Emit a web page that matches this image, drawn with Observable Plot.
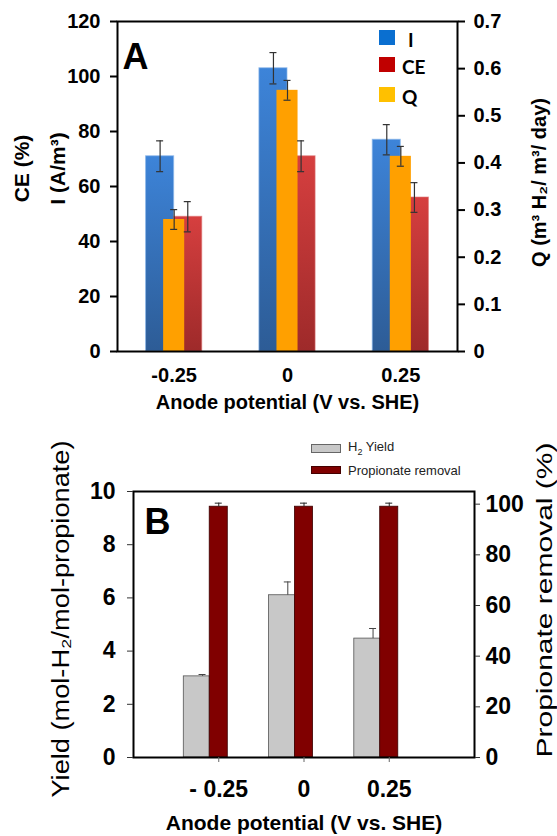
<!DOCTYPE html>
<html><head><meta charset="utf-8">
<script src="https://cdn.jsdelivr.net/npm/d3@7"></script>
<script src="https://cdn.jsdelivr.net/npm/@observablehq/plot@0.6"></script>
<style>
body{margin:0;background:#fff;font-family:"Liberation Sans",Arial,sans-serif;}
#wrap{position:relative;width:557px;height:836px;overflow:hidden;}
#wrap svg{display:block}
.sw{position:absolute;box-sizing:border-box;}
.lt{position:absolute;line-height:1;white-space:nowrap;}
</style></head><body><div id="wrap"></div>
<script>
// ---- data ----
const potentials = ["-0.25", "0", "0.25"];
const potentialLabelsB = ["- 0.25", "0", "0.25"];
const currentI = [71, 103, 77];
const currentErr = [5.6, 5.7, 5.5];
const ceValues = [49, 71, 56];
const ceErr = [5.5, 5.6, 5.4];
const qValues = [0.28, 0.554, 0.414];
const qErr = [0.021, 0.021, 0.021];
const h2Yield = [3.05, 6.1, 4.47];
const h2YieldErr = [0.07, 0.5, 0.38];
const propRemoval = [99, 99, 99];
const propRemovalErr = [1.4, 1.4, 1.4];
const leftTicksA = [0, 20, 40, 60, 80, 100, 120];
const rightTicksA = [0, 0.1, 0.2, 0.3, 0.4, 0.5, 0.6, 0.7];
const leftTicksB = [0, 2, 4, 6, 8, 10];
const rightTicksB = [0, 20, 40, 60, 80, 100];

const FONT = "Liberation Sans, Arial, Helvetica, sans-serif";
const wrap = document.getElementById("wrap");
const idx = potentials.map((_, i) => i);

// ---- Panel A ----
const qk = 120 / 0.7;
const rowsA = idx.map(i => ({i, I: currentI[i], Ie: currentErr[i], CE: ceValues[i], CEe: ceErr[i], Q: qValues[i] * qk, Qe: qErr[i] * qk}));
const W = 0.248, HQ = 0.093, CAP = 0.031;
const errA = [
  ...rowsA.map(d => ({x: d.i - W / 2, v: d.I, e: d.Ie})),
  ...rowsA.map(d => ({x: d.i, v: d.Q, e: d.Qe})),
  ...rowsA.map(d => ({x: d.i + 0.12, v: d.CE, e: d.CEe}))
];

const plotA = Plot.plot({
  width: 557, height: 415,
  marginTop: 21, marginBottom: 64, marginLeft: 117, marginRight: 100,
  x: {domain: [-0.5, 2.5]},
  y: {domain: [0, 120]},
  style: {fontFamily: FONT, fontSize: "20px", fontWeight: "bold", color: "#000", background: "#fff", overflow: "visible"},
  marks: [
    Plot.rect(rowsA, {x1: d => d.i - W, x2: d => d.i, y1: 0, y2: "I", fill: "url(#gradI)", stroke: "#8ab6ea", strokeOpacity: 0.7, strokeWidth: 1}),
    Plot.rect(rowsA, {x1: d => d.i, x2: d => d.i + W, y1: 0, y2: "CE", fill: "url(#gradCE)", stroke: "#e07a7a", strokeOpacity: 0.6, strokeWidth: 1}),
    Plot.rect(rowsA, {x1: d => d.i - HQ, x2: d => d.i + HQ, y1: 0, y2: "Q", fill: "#ffa000"}),
    Plot.ruleX(errA, {x: "x", y1: d => d.v - d.e, y2: d => d.v + d.e, stroke: "#333", strokeWidth: 1.2}),
    Plot.ruleY(errA, {y: d => d.v + d.e, x1: d => d.x - CAP, x2: d => d.x + CAP, stroke: "#333", strokeWidth: 1.2}),
    Plot.ruleY(errA, {y: d => d.v - d.e, x1: d => d.x - CAP, x2: d => d.x + CAP, stroke: "#333", strokeWidth: 1.2}),
    Plot.frame({stroke: "#000", strokeWidth: 2}),
    Plot.axisY({anchor: "left", ticks: leftTicksA, tickSize: 7, tickPadding: 10, strokeWidth: 2, label: null, fontSize: 20, fontWeight: "bold"}),
    Plot.axisY({anchor: "right", ticks: rightTicksA.map(v => v * qk), tickFormat: d => String(+(d / qk).toFixed(1)), tickSize: 7, tickPadding: 9, strokeWidth: 2, label: null, fontSize: 20, fontWeight: "bold"}),
    Plot.axisX({ticks: idx, tickFormat: i => potentials[i], tickSize: 0, tickPadding: 16, label: null, fontSize: 20, fontWeight: "bold"}),
    Plot.text(["Anode potential (V vs. SHE)"], {text: d => d, frameAnchor: "bottom", textAnchor: "middle", lineAnchor: "middle", dy: 51, fontSize: 20, fontWeight: "bold"}),
    Plot.text(["CE (%)"], {text: d => d, frameAnchor: "left", textAnchor: "middle", lineAnchor: "middle", rotate: -90, dx: -95, dy: -18, fontSize: 21, fontWeight: "bold"}),
    Plot.text(["I (A/m³)"], {text: d => d, frameAnchor: "left", textAnchor: "middle", lineAnchor: "middle", rotate: -90, dx: -59, dy: -18, fontSize: 21, fontWeight: "bold"}),
    Plot.text(["Q (m³ H₂/ m³/ day)"], {text: d => d, frameAnchor: "right", textAnchor: "middle", lineAnchor: "middle", rotate: -90, dx: 82, dy: -4, fontSize: 20, fontWeight: "bold"}),
    Plot.text(["A"], {text: d => d, frameAnchor: "top-left", textAnchor: "start", lineAnchor: "top", dx: 5, dy: 22, fontSize: 36, fontWeight: "bold"})
  ]
});
d3.select(plotA).insert("defs", ":first-child").html(`
  <linearGradient id="gradI" x1="0" y1="0" x2="0" y2="1">
    <stop offset="0" stop-color="#3d84d9"/><stop offset="1" stop-color="#2d5c96"/>
  </linearGradient>
  <linearGradient id="gradCE" x1="0" y1="0" x2="0" y2="1">
    <stop offset="0" stop-color="#d63f3f"/><stop offset="1" stop-color="#9e2a2a"/>
  </linearGradient>`);
wrap.appendChild(plotA);

// ---- Panel B ----
const pk = 10 / 105;
const rowsB = idx.map(i => ({i, Y: h2Yield[i], Ye: h2YieldErr[i], P: propRemoval[i] * pk, Pe: propRemovalErr[i] * pk}));
const GX = -0.19, CAPB = 0.041;
const plotB = Plot.plot({
  width: 557, height: 421,
  marginTop: 76, marginBottom: 79, marginLeft: 133, marginRight: 83,
  x: {domain: [-1, 3]},
  y: {domain: [0, 10]},
  style: {fontFamily: FONT, fontSize: "23px", fontWeight: "bold", color: "#000", background: "#fff", overflow: "visible"},
  marks: [
    Plot.rect(rowsB, {x1: d => d.i - 0.41, x2: d => d.i - 0.106, y1: 0, y2: "Y", fill: "#c8c8c8", stroke: "#555", strokeWidth: 0.8}),
    Plot.rect(rowsB, {x1: d => d.i - 0.106, x2: d => d.i + 0.106, y1: 0, y2: "P", fill: "#800000", stroke: "#3a0000", strokeWidth: 0.8}),
    Plot.ruleX(rowsB, {x: d => d.i + GX, y1: "Y", y2: d => d.Y + d.Ye, stroke: "#444", strokeWidth: 1}),
    Plot.ruleY(rowsB, {y: d => d.Y + d.Ye, x1: d => d.i + GX - CAPB, x2: d => d.i + GX + CAPB, stroke: "#444", strokeWidth: 1}),
    Plot.ruleX(rowsB, {x: "i", y1: "P", y2: d => d.P + d.Pe, stroke: "#222", strokeWidth: 1}),
    Plot.ruleY(rowsB, {y: d => d.P + d.Pe, x1: d => d.i - CAPB, x2: d => d.i + CAPB, stroke: "#222", strokeWidth: 1}),
    Plot.frame({stroke: "#000", strokeWidth: 2}),
    Plot.axisY({anchor: "left", ticks: leftTicksB, tickSize: 6, tickPadding: 12, strokeWidth: 1, stroke: "#333", label: null, fontSize: 23, fontWeight: "bold"}),
    Plot.axisY({anchor: "right", ticks: rightTicksB.map(v => v * pk), tickFormat: d => String(Math.round(d / pk)), tickSize: 5, tickPadding: 6, strokeWidth: 1, stroke: "#333", label: null, fontSize: 23, fontWeight: "bold"}),
    Plot.axisX({ticks: idx, tickFormat: i => potentialLabelsB[i], tickSize: 5, tickPadding: 18, strokeWidth: 1, stroke: "#666", label: null, fontSize: 23, fontWeight: "bold"}),
    Plot.text(["Anode potential (V vs. SHE)"], {text: d => d, frameAnchor: "bottom", textAnchor: "middle", lineAnchor: "middle", dy: 66, fontSize: 21, fontWeight: "bold"}),
    Plot.text(["Yield (mol-H₂/mol-propionate)"], {text: d => d, frameAnchor: "left", textAnchor: "middle", lineAnchor: "middle", rotate: -90, dx: -72, dy: -5.5, fontSize: 23, fontWeight: "normal"}),
    Plot.text(["Propionate removal (%)"], {text: d => d, frameAnchor: "right", textAnchor: "middle", lineAnchor: "middle", rotate: -90, dx: 70, dy: -24.5, fontSize: 22, fontWeight: "normal"}),
    Plot.text(["B"], {text: d => d, frameAnchor: "top-left", textAnchor: "start", lineAnchor: "top", dx: 11, dy: 17, fontSize: 36, fontWeight: "bold"})
  ]
});
d3.select(plotB).selectAll("text").each(function () {
  const t = this.textContent;
  if (t.startsWith("Yield")) d3.select(this).attr("textLength", 357).attr("lengthAdjust", "spacingAndGlyphs");
  if (t.startsWith("Propionate")) d3.select(this).attr("textLength", 315).attr("lengthAdjust", "spacingAndGlyphs");
});
wrap.appendChild(plotB);

// ---- legends (HTML overlays) ----
function add(html) { wrap.insertAdjacentHTML("beforeend", html); }
const legA = [["I", "#0a6fd0", 30, 408], ["CE", "#c00000", 57, 402], ["Q", "#ffc000", 87, 402]];
legA.forEach(([name, col, top, tx]) => {
  add(`<div class="sw" style="left:379px;top:${top}px;width:16px;height:15px;background:${col}"></div>`);
  add(`<div class="lt" style="left:${tx}px;top:${top - 2}px;font:bold 19px Lato, ${FONT};">${name}</div>`);
});
add(`<div class="sw" style="left:311px;top:444px;width:30px;height:9px;background:#c8c8c8;border:1px solid #666"></div>`);
add(`<div class="lt" style="left:348px;top:439px;font:13px ${FONT};color:#222">H<sub style="font-size:9px">2</sub> Yield</div>`);
add(`<div class="sw" style="left:311px;top:466px;width:30px;height:8px;background:#800000;border:1px solid #400"></div>`);
add(`<div class="lt" style="left:348px;top:463px;font:13px ${FONT};color:#222">Propionate removal</div>`);
</script>
</body></html>
